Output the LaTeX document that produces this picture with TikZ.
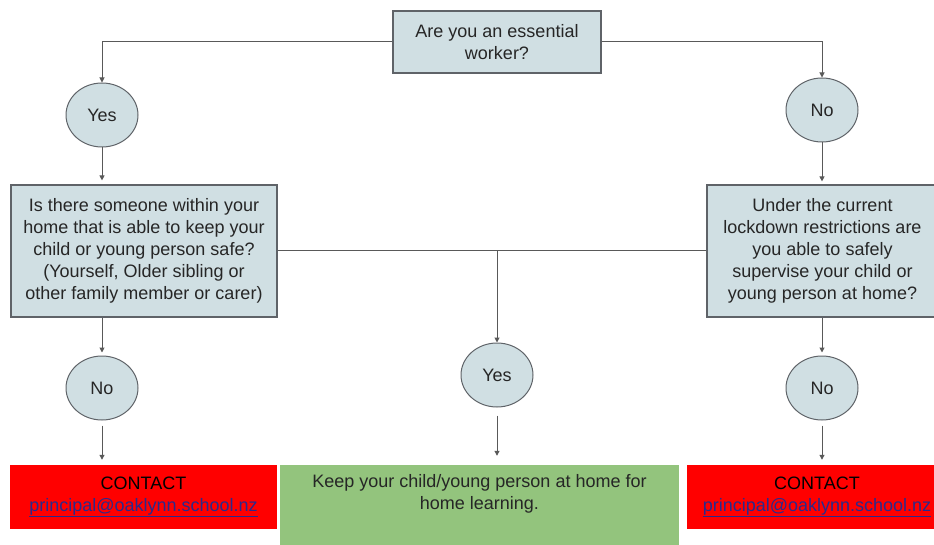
\documentclass[tikz,border=0pt]{standalone}
\usepackage{fontspec}
\setmainfont{Liberation Sans}
\usetikzlibrary{arrows.meta,shapes.geometric}
\definecolor{boxfill}{HTML}{D0DFE3}
\definecolor{edge}{HTML}{5F6368}
\definecolor{lineclr}{HTML}{595959}
\definecolor{redfill}{HTML}{FF0000}
\definecolor{greenfill}{HTML}{93C47D}
\definecolor{linkblue}{HTML}{2A2A8C}
\definecolor{txt}{HTML}{262626}
\begin{document}
\begin{tikzpicture}[x=1pt,y=-1pt,
  every node/.style={font=\fontsize{18}{22}\selectfont},
  qbox/.style={rectangle, draw=edge, line width=1.2pt, fill=boxfill, align=center, text=txt, inner sep=0pt},
  ans/.style={ellipse, draw=edge, fill=boxfill, line width=1pt, minimum width=72pt, minimum height=64pt, inner sep=0pt, text=txt},
  redbox/.style={rectangle, fill=redfill, draw=none, align=center, inner sep=0pt, minimum height=64pt},
  greenbox/.style={rectangle, fill=greenfill, draw=none, inner sep=0pt},
  greentxt/.style={align=center, text=txt, inner sep=0pt, yshift=-9pt},
  conn/.style={draw=lineclr, line width=1pt},
  arr/.style={conn, -{Triangle[length=5pt,width=5pt]}},
  link/.style={text=linkblue}
]
\useasboundingbox (0,0) rectangle (934,545);
\clip (0,0) rectangle (934,545);

% question boxes
\node[qbox, minimum width=208pt, minimum height=62pt] (top) at (497,42) {Are you an essential\\worker?};
\node[qbox, minimum width=266pt, minimum height=132pt] (left) at (144,251)
  {Is there someone within your\\home that is able to keep your\\child or young person safe?\\(Yourself, Older sibling or\\other family member or carer)};
\node[qbox, minimum width=231pt, minimum height=132pt] (right) at (822.5,251)
  {Under the current\\lockdown restrictions are\\you able to safely\\supervise your child or\\young person at home?};

% answers
\node[ans] (yesL) at (102,115) {Yes};
\node[ans] (noR) at (822,110) {No};
\node[ans] (yesC) at (497,375) {Yes};
\node[ans] (noL) at (102,388) {No};
\node[ans] (noR2) at (822,388) {No};

% outcomes
\node[redbox, minimum width=267pt] (redL) at (143.5,497)
  {\color{black}CONTACT\\\textcolor{linkblue}{\underline{principal@oaklynn.school.nz}}};
\node[redbox, minimum width=260pt] (redR) at (817,497)
  {\color{black}CONTACT\\\textcolor{linkblue}{\underline{principal@oaklynn.school.nz}}};
\node[greenbox, minimum width=399pt, minimum height=90pt,
  label={[greentxt, anchor=north]north:Keep your child/young person at home for\\home learning.}] (green) at (479.5,510) {};

% connectors
\coordinate (j) at (497,251);
\draw[arr] (top.west) -| (yesL.north);
\draw[arr] (top.east) -| (noR.north);
\draw[arr, shorten >=4pt] (yesL.south) -- (left.north -| yesL.south);
\draw[arr, shorten >=3pt] (noR.south) -- (right.north -| noR.south);
\draw[conn] (left.east) -- (right.west);
\draw[arr] (j) -- (yesC.north);
\draw[arr, shorten >=3pt] (left.south -| noL.north) -- (noL.north);
\draw[arr, shorten >=3pt] (right.south -| noR2.north) -- (noR2.north);
\draw[arr, shorten <=5pt, shorten >=5pt] (noL.south) -- (noL.south |- redL.north);
\draw[arr, shorten <=5pt, shorten >=5pt] (noR2.south) -- (noR2.south |- redR.north);
\draw[arr, shorten <=8pt, shorten >=9pt] (yesC.south) -- (yesC.south |- green.north);
\end{tikzpicture}
\end{document}
